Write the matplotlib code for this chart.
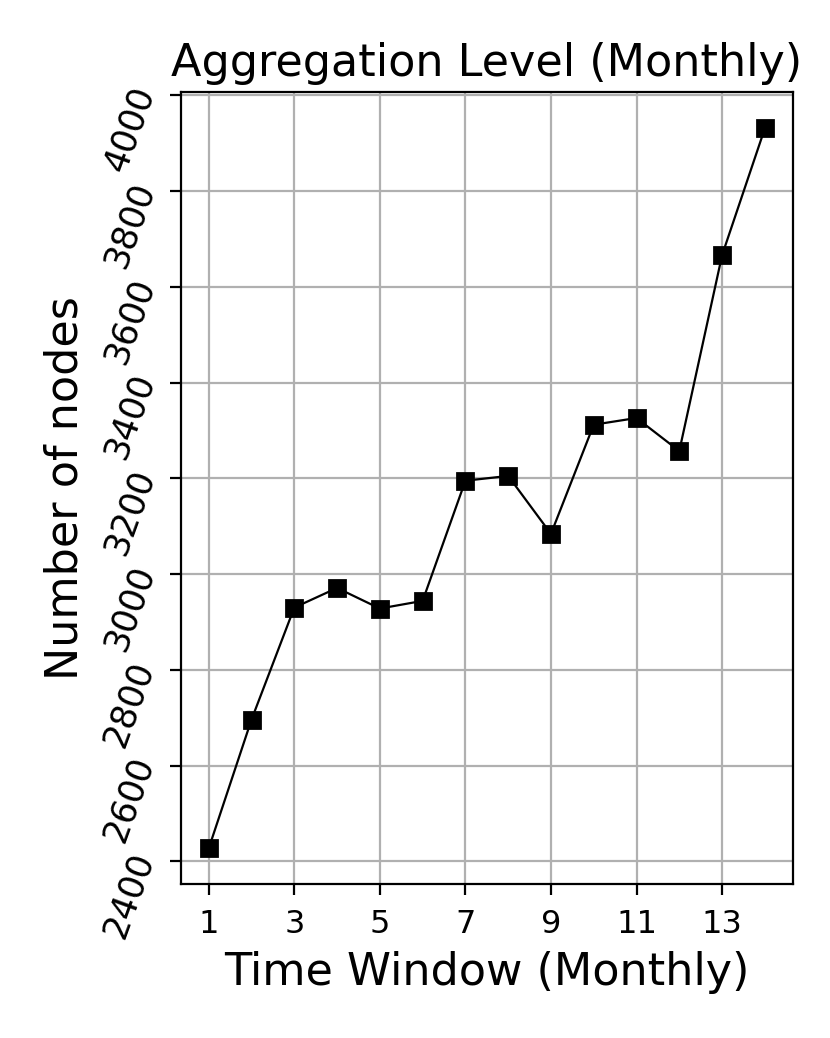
import matplotlib
matplotlib.use("Agg")
from matplotlib import pyplot as plt
import numpy as np

# monthly time windows and node counts
windows = np.arange(1, 15)
nodes = [2427, 2696, 2930, 2971, 2928, 2944, 3195, 3205, 3084,
         3312, 3326, 3257, 3666, 3931]
xticks = [1, 3, 5, 7, 9, 11, 13]

fig = plt.figure(figsize=(4.15, 5.19), dpi=200)
ax = fig.add_axes([0.218, 0.148, 0.737, 0.763])

ax.plot(windows, nodes, 'k-', marker='s', markersize=5.6, linewidth=0.8)
ax.grid(True, color='#b0b0b0', linewidth=0.8)
ax.set_axisbelow(True)

ax.set_xticks(xticks)
ax.set_yticks(np.arange(2400, 4001, 200))
ax.tick_params(axis='both', length=4)
ax.tick_params(axis='x', labelsize=11.5, pad=5)
ax.tick_params(axis='y', labelsize=12.5)
plt.setp(ax.get_yticklabels(), rotation=70)

ax.set_xlabel("Time Window (Monthly)", fontsize=16)
ax.set_ylabel("Number of nodes", fontsize=16)
ax.set_title("Aggregation Level (Monthly)", fontsize=16)

fig.savefig("out.png", dpi=200)
